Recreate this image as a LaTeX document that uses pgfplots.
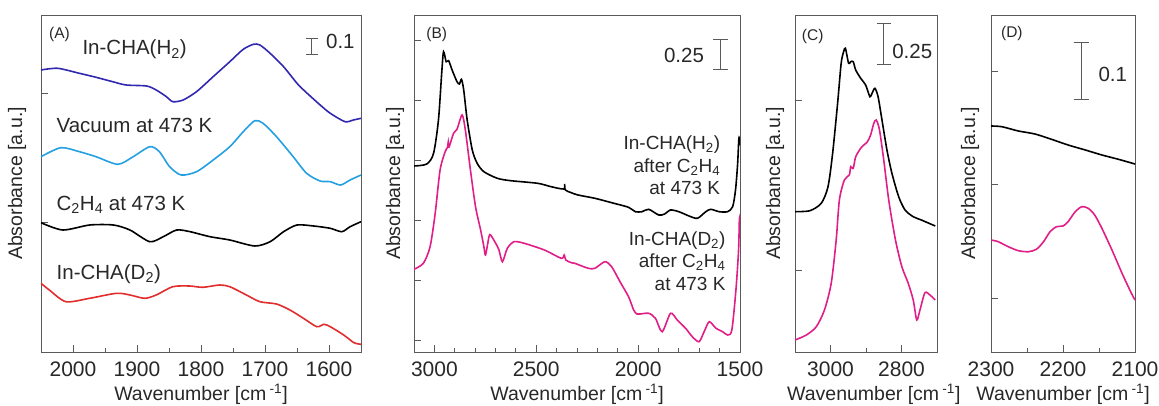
\documentclass[border=0pt]{standalone}
\usepackage{fontspec}
\setmainfont{Liberation Sans}
\usepackage{pgfplots}
\pgfplotsset{compat=1.18}
\definecolor{hblue}{RGB}{50,40,175}
\definecolor{lblue}{RGB}{35,160,225}
\definecolor{dred}{RGB}{225,45,45}
\definecolor{pink}{RGB}{225,30,135}
\definecolor{txt}{RGB}{40,40,40}
\definecolor{frame}{RGB}{90,90,90}

\newcommand{\ftick}{\fontsize{21}{22}\selectfont}
\newcommand{\flab}{\fontsize{19.5}{21}\selectfont}
\newcommand{\fbig}{\fontsize{20.5}{22}\selectfont}
\newcommand{\fmid}{\fontsize{19}{20}\selectfont}
\newcommand{\fsmall}{\fontsize{15.5}{17}\selectfont}

\tikzset{sbar/.style={frame, line width=1pt}}
\pgfplotsset{
  panel/.style={
    scale only axis, height=337pt,
    x dir=reverse, ymin=53, ymax=390,
    tick pos=left, tick align=inside,
    yticklabels={},
    major tick length=7pt, minor tick length=4pt,
    axis line style={frame, line width=0.8pt},
    every tick/.style={frame, line width=0.8pt},
    tick label style={font=\ftick, text=txt},
    xticklabel style={yshift=-6pt},
    label style={font=\flab, text=txt},
    /pgf/number format/assume math mode=true,
    /pgf/number format/1000 sep={},
    xlabel={Wavenumber [cm\,\textsuperscript{-1}]},
    ylabel={Absorbance [a.u.]},
    xlabel style={at={(axis description cs:0.5,-0.125)}, anchor=center},
    every axis plot/.append style={line width=1.6pt, smooth, tension=0.45},
  },
}

\begin{document}
\begin{tikzpicture}[x=1pt,y=1pt]
\path[use as bounding box] (0,0) rectangle (1159,405);

% ---------- (A)
\begin{axis}[panel, at={(41pt,53pt)}, anchor=south west, width=320pt,
  xmin=1550, xmax=2050,
  xtick={1600,1700,1800,1900,2000}, minor xtick={1650,1750,1850,1950},
  ytick={183,312},
  ylabel style={at={(axis description cs:-0.075,0.5)}, anchor=center}]
\addplot[hblue] coordinates {
 (2050,335.0)(2024,336.7)(1990,331.7)(1964,327.7)(1938,323.3)(1917,320.0)
 (1885,319.0)(1870,315.0)(1854,308.3)(1844,303.3)(1828,305.0)(1807,313.3)
 (1781,328.3)(1755,343.3)(1734,355.7)(1718,360.7)(1708,360.0)(1692,351.7)
 (1671,338.3)(1650,321.7)(1638,314)(1626,307)(1612,299)(1598,291.7)
 (1575,283.3)(1562,285.0)(1550,286.7)};
\addplot[lblue] coordinates {
 (2050,248.3)(2019,257.3)(1990,253.3)(1964,248.3)(1930,240.7)(1906,248.3)
 (1880,258.3)(1865,253.3)(1849,238.3)(1831,230.0)(1807,233.3)(1781,245.0)
 (1755,258.3)(1734,273.3)(1716,284.3)(1703,281.7)(1682,268.3)(1656,248.3)
 (1635,231.7)(1614,224.0)(1598,223.3)(1582,220.0)(1567,225.0)(1550,230.0)};
\addplot[black] coordinates {
 (2050,182.3)(2016,175)(1974,180)(1937,180)(1911,175)(1880,163.3)(1859,168.3)
 (1838,175)(1817,173.3)(1786,168.3)(1755,165)(1716,159)(1692,163.3)
 (1671,173.3)(1650,180)(1624,179)(1598,176.7)(1580,173.3)(1567,178.3)(1550,183.3)};
\addplot[dred] coordinates {
 (2050,121.7)(2037,115)(2011,103.3)(1974,106.7)(1932,111.7)(1911,110)
 (1888,106.7)(1870,110)(1844,118.3)(1818,119)(1797,117.7)(1771,120)
 (1755,118.3)(1729,110)(1708,103.3)(1682,101)(1661,95)(1640,86.7)
 (1619,78.3)(1608,80.7)(1598,78.3)(1577,70)(1561,62.3)(1550,60.7)};
\node[font=\fsmall, text=txt] at (axis cs:2021,371) {(A)};
\node[font=\fbig, text=txt, anchor=base west] at (axis cs:1990.6,350) {In-CHA(H\textsubscript{2})};
\node[font=\fbig, text=txt, anchor=base west] at (axis cs:2031,272) {Vacuum at 473 K};
\node[font=\fbig, text=txt, anchor=base west] at (axis cs:2031,195) {C\textsubscript{2}H\textsubscript{4} at 473 K};
\node[font=\fbig, text=txt, anchor=base west] at (axis cs:2031,126) {In-CHA(D\textsubscript{2})};
\draw[sbar] (axis cs:1627,366.7) -- (axis cs:1627,350);
\draw[sbar] ([xshift=-6pt]axis cs:1627,366.7) -- ([xshift=6pt]axis cs:1627,366.7);
\draw[sbar] ([xshift=-6pt]axis cs:1627,350) -- ([xshift=6pt]axis cs:1627,350);
\node[font=\fbig, text=txt, anchor=base west] at (axis cs:1610,356.7) {0.1};
\end{axis}

% ---------- (B)
\begin{axis}[panel, at={(414pt,53pt)}, anchor=south west, width=326pt,
  xmin=1500, xmax=3100,
  xtick={1500,2000,2500,3000}, minor x tick num=4,
  ytick={65,125,185,245,305,365},
  ylabel style={at={(axis description cs:-0.058,0.5)}, anchor=center}]
\addplot[black] coordinates {
 (3100,239)(3037,241)(3004,251.7)(2980,285)(2963,335)(2955,353.3)(2942,343.3)
 (2930,344.3)(2913,335)(2889,323.3)(2877,321)(2867,325.7)(2856,315)(2839,285)
 (2814,255)(2790,241.7)(2757,233.3)(2691,226.7)(2625,224.3)(2493,221.7)
 (2427,218.3)(2365,216)(2361,221)(2357,215)(2328,212.3)(2295,210)(2212,206.7)
 (2130,202.3)(2047,197.7)(2014,193.3)(1981,193.3)(1948,195.7)(1899,190)
 (1870,191)(1841,195)(1800,193.3)(1750,189)(1709,186.7)(1668,193.3)
 (1643,195.7)(1602,193.3)(1561,193.3)(1536,198.3)(1522,215)(1512,240)
 (1506,265)(1503,267)(1500,260)};
\addplot[pink] coordinates {
 (3100,135.7)(3054,141.7)(3021,158.3)(2996,191.7)(2972,235)(2947,253.3)
 (2935,258)(2932,263)(2928,258)(2906,271.7)(2889,275.7)(2864,290)(2848,275)
 (2823,235)(2798,198.3)(2773,175)(2757,158.3)(2749,150)(2732,168.3)
 (2724,170)(2699,161.7)(2683,155)(2666,143.3)(2642,156.7)(2609,163.3)
 (2559,161.7)(2460,155)(2377,146.7)(2363,150)(2355,145)(2328,142.3)
 (2311,141.7)(2245,136.7)(2212,136.7)(2163,143.3)(2130,138.3)(2089,123.3)
 (2047,108.3)(2022,95)(2006,91)(1990,91)(1948,91.7)(1915,86.7)(1882,73.3)
 (1841,91.7)(1808,85)(1767,76.7)(1734,68.3)(1701,63.3)(1676,73.3)
 (1651,83.3)(1618,76.7)(1585,73.3)(1561,70)(1540,75)(1520,115)(1507,155)
 (1503,186)(1500,182)};
\node[font=\fsmall, text=txt] at (axis cs:2988,371) {(B)};
\node[font=\fbig, text=txt, anchor=base east] at (axis cs:1659.5,342.3) {0.25};
\draw[sbar] (axis cs:1593.6,365.7) -- (axis cs:1593.6,335);
\draw[sbar] ([xshift=-7.5pt]axis cs:1593.6,365.7) -- ([xshift=7.5pt]axis cs:1593.6,365.7);
\draw[sbar] ([xshift=-7.5pt]axis cs:1593.6,335) -- ([xshift=7.5pt]axis cs:1593.6,335);
\node[font=\fmid, text=txt, anchor=base east] at (axis cs:1580,255.5) {In-CHA(H\textsubscript{2})};
\node[font=\fmid, text=txt, anchor=base east] at (axis cs:1580,233) {after C\textsubscript{2}H\textsubscript{4}};
\node[font=\fmid, text=txt, anchor=base east] at (axis cs:1580,210.5) {at 473 K};
\node[font=\fmid, text=txt, anchor=base east] at (axis cs:1554,160) {In-CHA(D\textsubscript{2})};
\node[font=\fmid, text=txt, anchor=base east] at (axis cs:1554,137.5) {after C\textsubscript{2}H\textsubscript{4}};
\node[font=\fmid, text=txt, anchor=base east] at (axis cs:1554,115) {at 473 K};
\end{axis}

% ---------- (C)
\begin{axis}[panel, at={(795pt,53pt)}, anchor=south west, width=142pt,
  xmin=2700, xmax=3100,
  xtick={2800,3000}, minor xtick={2900},
  ytick={135,305},
  ylabel style={at={(axis description cs:-0.141,0.5)}, anchor=center},
  xlabel style={at={(axis description cs:0.555,-0.125)}, anchor=center}]
\addplot[black] coordinates {
 (3100,193.3)(3058,194.3)(3026,201.7)(3007,218.3)(2994,251.7)(2980,301.7)
 (2970,341.7)(2963,353.3)(2958,356.7)(2949,341.7)(2943,343.3)(2936,343.3)
 (2929,335)(2915,326.7)(2901,320)(2889,308.3)(2883,311.7)(2875,316.7)
 (2866,308.3)(2855,285)(2841,255)(2827,231.7)(2808,208.3)(2790,195)
 (2767,188.3)(2744,185)(2705,179)};
\addplot[pink] coordinates {
 (3100,65)(3068,70)(3040,78.3)(3017,95)(2998,121.7)(2984,165)(2975,205)
 (2961,225)(2947,230)(2943,238.3)(2936,236.7)(2929,248.3)(2915,256.7)
 (2906,260)(2896,263.3)(2887,270)(2878,281.7)(2871,285)(2862,275)(2850,245)
 (2836,205)(2817,165)(2799,138.3)(2781,121.7)(2767,105)(2757,85)(2748,95)
 (2734,112.3)(2720,110)(2705,105)};
\node[font=\fsmall, text=txt] at (axis cs:3050,369) {(C)};
\draw[sbar] (axis cs:2850,381.7) -- (axis cs:2850,340);
\draw[sbar] ([xshift=-7pt]axis cs:2850,381.7) -- ([xshift=7pt]axis cs:2850,381.7);
\draw[sbar] ([xshift=-7pt]axis cs:2850,340) -- ([xshift=7pt]axis cs:2850,340);
\node[font=\fbig, text=txt, anchor=base west] at (axis cs:2836,346.7) {0.25};
\end{axis}

% ---------- (D)
\begin{axis}[panel, at={(991pt,53pt)}, anchor=south west, width=144pt,
  xmin=2100, xmax=2300,
  xtick={2100,2200,2300}, minor xtick={2150,2250},
  ytick={107,221,334},
  ylabel style={at={(axis description cs:-0.146,0.5)}, anchor=center}]
\addplot[black] coordinates {
 (2300,279)(2285,278.3)(2262,274)(2239,271)(2216,265.7)(2193,260)
 (2169,255)(2146,250)(2123,245.7)(2100,241)};
\addplot[pink] coordinates {
 (2300,165)(2290,163.3)(2276,158.3)(2262,154.3)(2248,153.3)(2237,155.7)
 (2227,163.3)(2218,173.3)(2209,178.3)(2200,179)(2193,183.3)(2183,193.3)
 (2174,198.3)(2165,196.7)(2156,190)(2146,176.7)(2132,155)(2118,131.7)
 (2105,111.7)(2100,105)};
\node[font=\fsmall, text=txt] at (axis cs:2271,372) {(D)};
\draw[sbar] (axis cs:2175,362.3) -- (axis cs:2175,305.7);
\draw[sbar] ([xshift=-7.5pt]axis cs:2175,362.3) -- ([xshift=7.5pt]axis cs:2175,362.3);
\draw[sbar] ([xshift=-7.5pt]axis cs:2175,305.7) -- ([xshift=7.5pt]axis cs:2175,305.7);
\node[font=\fbig, text=txt, anchor=base west] at (axis cs:2155.6,323.3) {0.1};
\end{axis}
\end{tikzpicture}
\end{document}
